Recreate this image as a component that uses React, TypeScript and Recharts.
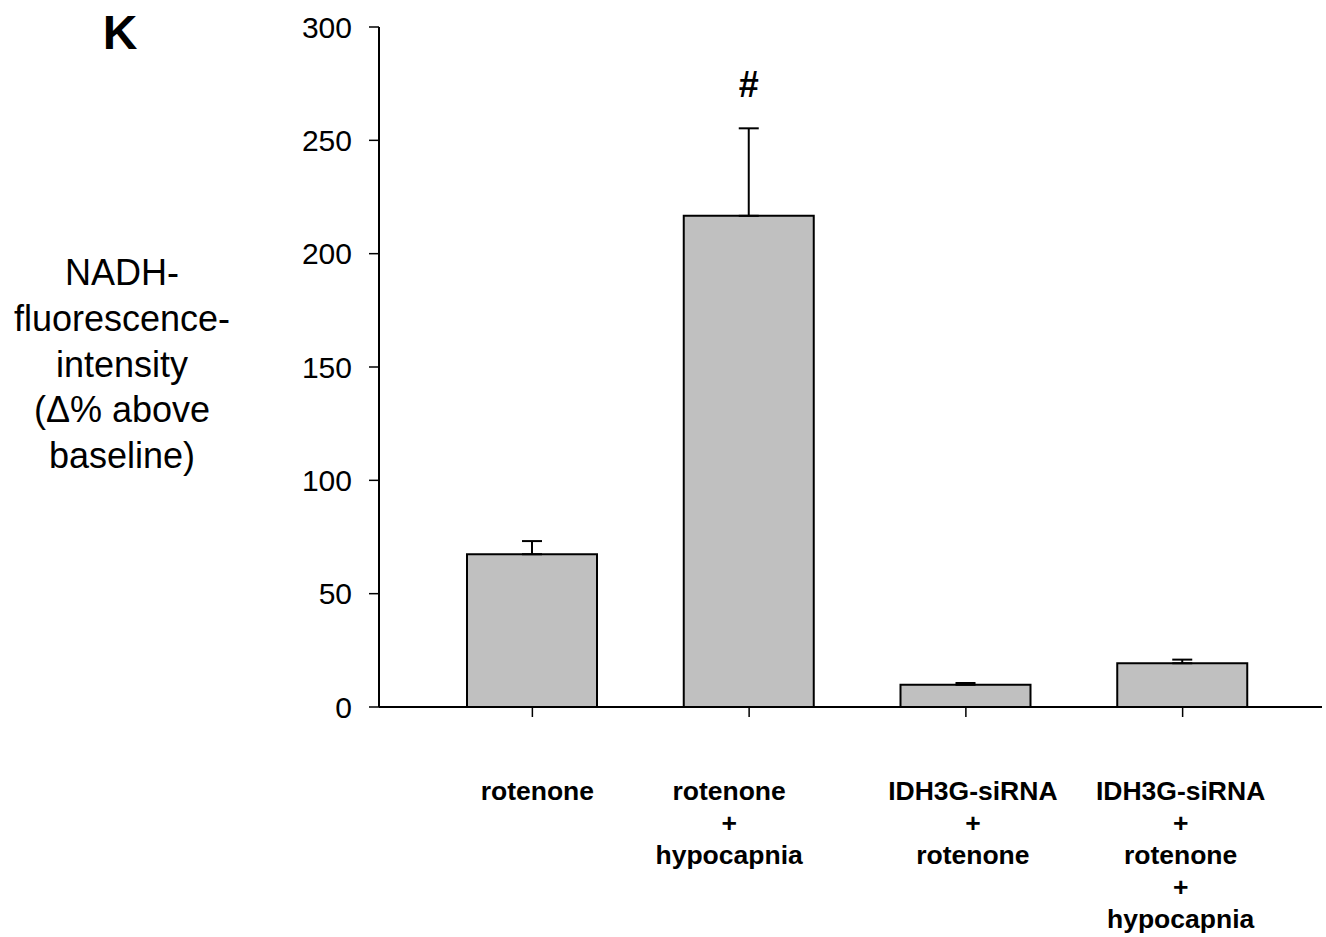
import React from 'react';
import { BarChart, Bar, XAxis, YAxis, ErrorBar, LabelList, Label } from 'recharts';

// ---- data ----
const categories = [
  'rotenone',
  'rotenone + hypocapnia',
  'IDH3G-siRNA + rotenone',
  'IDH3G-siRNA + rotenone + hypocapnia',
];
const categoryLines = [
  ['rotenone'],
  ['rotenone', '+', 'hypocapnia'],
  ['IDH3G-siRNA', '+', 'rotenone'],
  ['IDH3G-siRNA', '+', 'rotenone', '+', 'hypocapnia'],
];
const means = [67.4, 216.7, 9.8, 19.3];
const sems = [5.8, 38.6, 0.8, 1.6];
const significance = ['', '#', '', ''];
const yTicks = [0, 50, 100, 150, 200, 250, 300];
const yLabelLines = ['NADH-', 'fluorescence-', 'intensity', '(\u0394% above', 'baseline)'];
const panelLetter = 'K';

// ---- layout constants (not data) ----
const FONT = '"Liberation Sans", Arial, Helvetica, sans-serif';
const labelShift = [5, -20, 7, -2];

const data = categories.map((c, i) => ({
  name: c,
  mean: means[i],
  err: [0, sems[i]],
  mark: significance[i],
}));

const XTick = (props: any) => {
  const { x, y, payload } = props;
  const i = categories.indexOf(payload.value);
  const lines = categoryLines[i] || [payload.value];
  const cx = x + (labelShift[i] || 0);
  return (
    <text textAnchor="middle" fontFamily={FONT} fontWeight="bold" fontSize={26.5} fill="#000">
      {lines.map((l, k) => (
        <tspan key={k} x={cx} y={y + 83 + k * 32}>
          {l}
        </tspan>
      ))}
    </text>
  );
};

const YTick = (props: any) => {
  const { x, y, payload } = props;
  return (
    <text x={x} y={y + 10.5} textAnchor="end" fontFamily={FONT} fontSize={30} fill="#000">
      {payload.value}
    </text>
  );
};

const YLabel = (props: any) => {
  const vb = props.viewBox || { x: 0, y: 27 };
  const top = vb.y;
  return (
    <g>
      <text x={120} y={top + 22} textAnchor="middle" fontFamily={FONT} fontWeight="bold" fontSize={48} fill="#000">
        {panelLetter}
      </text>
      <text textAnchor="middle" fontFamily={FONT} fontSize={36} fill="#000">
        {yLabelLines.map((l, k) => (
          <tspan key={k} x={122} y={top + 258 + k * 45.8}>
            {l}
          </tspan>
        ))}
      </text>
    </g>
  );
};

const MarkLabel = (props: any) => {
  const { x, y, width, height, value } = props;
  if (!value) return null;
  let idx = props.index;
  if (idx === undefined || idx === null) idx = significance.indexOf(value);
  const pxPerUnit = height / means[idx];
  const errTop = y - sems[idx] * pxPerUnit;
  return (
    <text x={x + width / 2} y={errTop - 31} textAnchor="middle" fontFamily={FONT} fontWeight="bold" fontSize={36} fill="#000">
      {value}
    </text>
  );
};

export default function App() {
  return (
    <div style={{ position: 'absolute', left: 0, top: 0, width: 1326, height: 937, background: '#fff' }}>
      <BarChart
        width={1326}
        height={937}
        data={data}
        margin={{ top: 27, right: 4, bottom: 10, left: 0 }}
        barCategoryGap={87}
      >
        <XAxis
          dataKey="name"
          type="category"
          padding={{ left: 45, right: 31 }}
          axisLine={{ stroke: '#000', strokeWidth: 2 }}
          tickLine={{ stroke: '#000', strokeWidth: 1.5 }}
          tickSize={10}
          tickMargin={0}
          height={220}
          interval={0}
          tick={<XTick />}
        />
        <YAxis
          type="number"
          domain={[0, 300]}
          ticks={yTicks}
          width={379}
          axisLine={{ stroke: '#000', strokeWidth: 2 }}
          tickLine={{ stroke: '#000', strokeWidth: 1.5 }}
          tickSize={10}
          tickMargin={17}
          interval={0}
          tick={<YTick />}
        >
          <Label content={<YLabel />} />
        </YAxis>
        <Bar
          dataKey="mean"
          fill="#c0c0c0"
          stroke="#000"
          strokeWidth={2}
          barSize={130}
          isAnimationActive={false}
        >
          <ErrorBar dataKey="err" direction="y" width={10} stroke="#000" strokeWidth={2} isAnimationActive={false} />
          <LabelList dataKey="mark" content={<MarkLabel />} />
        </Bar>
      </BarChart>
    </div>
  );
}
